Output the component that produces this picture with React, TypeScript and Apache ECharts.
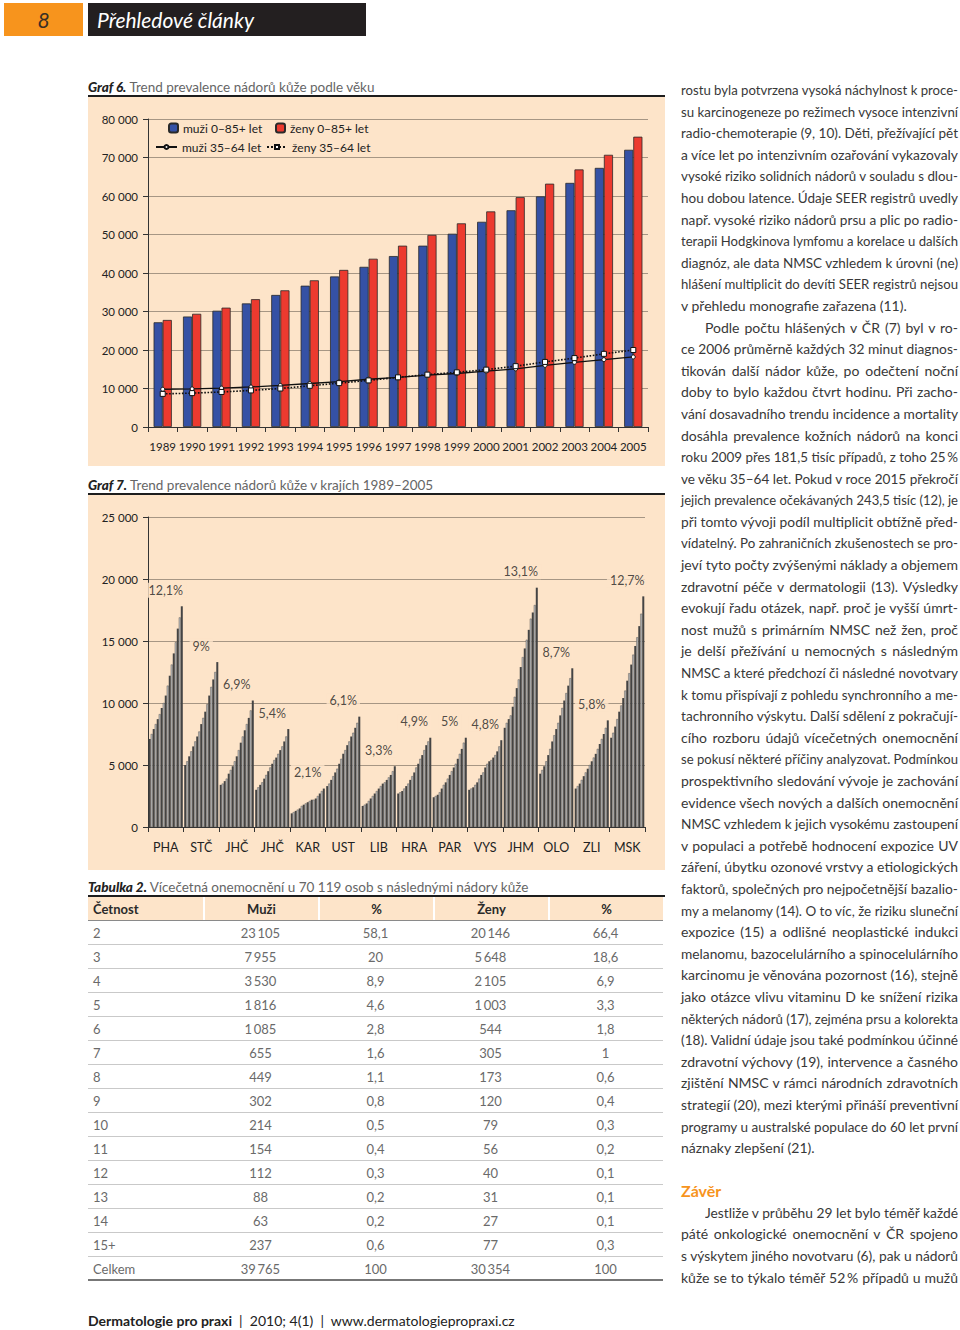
import React, { useEffect, useLayoutEffect, useRef } from "react";
import * as echarts from "echarts";

// ---------- Graf 6 data ----------
const years = ["1989","1990","1991","1992","1993","1994","1995","1996","1997","1998","1999","2000","2001","2002","2003","2004","2005"];
const menAll = [27200,28700,30200,32100,34300,36700,39100,41600,44400,47100,50200,53300,56300,59900,63400,67300,72000];
const womenAll = [27800,29400,31000,33200,35500,38100,40800,43700,47100,49900,52900,56000,59700,63200,66900,70700,75400];
const men3564 = [9800,9900,10100,10400,10800,11300,11800,12400,12900,13500,13900,14500,15100,16000,16800,17500,18200];
const women3564 = [8600,8800,9100,9500,10000,10700,11400,12100,12900,13600,14200,14900,15800,16900,17900,19000,20000];
const legendNames = ["muži 0–85+ let", "ženy 0–85+ let", "muži 35–64 let", "ženy 35–64 let"];

// ---------- Graf 7 data (per region, 1989–2005) ----------
const regions = ["PHA","STČ","JHČ","JHČ","KAR","UST","LIB","HRA","PAR","VYS","JHM","OLO","ZLI","MSK"];
const pha = [7100,7500,7900,8300,8700,9100,9600,10000,10600,11400,12200,13100,14000,14900,16000,16900,17800];
const stc = [5000,5300,5700,6100,6500,6900,7300,7700,8300,8800,9300,9900,10600,11300,11900,12500,13300];
const jhc = [3400,3500,3700,3900,4300,4600,4900,5300,5700,6200,6800,7300,7800,8300,8800,9400,10200];
const jhc2 = [3000,3200,3400,3600,3900,4200,4500,4800,5100,5400,5600,5900,6200,6500,6900,7300,7900];
const kar = [1100,1200,1300,1400,1500,1700,1800,1900,2000,2100,2200,2200,2300,2500,2700,2900,3100];
const ust = [3300,3500,3800,4100,4400,4700,5100,5500,5900,6200,6600,6900,7300,7600,8000,8400,8900];
const lib = [1700,1800,1900,2100,2300,2500,2700,2900,3100,3300,3500,3600,3800,4000,4200,4500,4900];
const hra = [2700,2800,2900,3100,3300,3500,3800,4100,4400,4800,5100,5500,5800,6200,6600,6900,7200];
const par = [2400,2500,2600,2800,3100,3400,3600,3900,4200,4500,4800,5100,5500,5900,6300,6800,7200];
const vys = [3000,3100,3200,3400,3600,3900,4200,4400,4800,5100,5300,5400,5600,5800,6100,6500,7000];
const jhm = [8000,8400,8700,9000,9700,10500,11200,11900,12900,13700,14400,15100,15900,16800,17300,17900,19300];
const olo = [4300,4600,4900,5300,5800,6300,6900,7400,7900,8400,9000,9600,10200,10800,11400,12000,12800];
const zli = [3100,3300,3500,3800,4100,4400,4700,5000,5300,5600,5900,6300,6700,7100,7500,8000,8600];
const msk = [7200,7600,8100,8700,9300,9800,10400,11000,11800,12400,13100,13900,14600,15300,16200,17200,18600];
const regionShares = ["12,1%","9%","6,9%","5,4%","2,1%","6,1%","3,3%","4,9%","5%","4,8%","13,1%","8,7%","5,8%","12,7%"];

// ---------- Tabulka 2 ----------
const tableHead = ["Četnost", "Muži", "%", "Ženy", "%"];
const tabCetnost = ["2","3","4","5","6","7","8","9","10","11","12","13","14","15+","Celkem"];
const tabMuzi = ["23\u2009105","7\u2009955","3\u2009530","1\u2009816","1\u2009085","655","449","302","214","154","112","88","63","237","39\u2009765"];
const tabMuziPct = ["58,1","20","8,9","4,6","2,8","1,6","1,1","0,8","0,5","0,4","0,3","0,2","0,2","0,6","100"];
const tabZeny = ["20\u2009146","5\u2009648","2\u2009105","1\u2009003","544","305","173","120","79","56","40","31","27","77","30\u2009354"];
const tabZenyPct = ["66,4","18,6","6,9","3,3","1,8","1","0,6","0,4","0,3","0,2","0,1","0,1","0,1","0,3","100"];

// ---------- Right column text ----------
const para1 = [
  "rostu byla potvrzena vysoká náchylnost k proce-",
  "su karcinogeneze po režimech vysoce intenzivní",
  "radio-chemoterapie (9, 10). Děti, přežívající pět",
  "a více let po intenzivním ozařování vykazovaly",
  "vysoké riziko solidních nádorů v souladu s dlou-",
  "hou dobou latence. Údaje SEER registrů uvedly",
  "např. vysoké riziko nádorů prsu a plic po radio-",
  "terapii Hodgkinova lymfomu a korelace u dalších",
  "diagnóz, ale data NMSC vzhledem k úrovni (ne)",
  "hlášení multiplicit do devíti SEER registrů nejsou",
  "v přehledu monografie zařazena (11).",
];
const para2 = [
  "Podle počtu hlášených v ČR (7) byl v ro-",
  "ce 2006 průměrně každých 32 minut diagnos-",
  "tikován další nádor kůže, po odečtení noční",
  "doby to bylo každou čtvrt hodinu. Při zacho-",
  "vání dosavadního trendu incidence a mortality",
  "dosáhla prevalence kožních nádorů na konci",
  "roku 2009 přes 181,5 tisíc případů, z toho 25\u2009%",
  "ve věku 35–64 let. Pokud v roce 2015 překročí",
  "jejich prevalence očekávaných 243,5 tisíc (12), je",
  "při tomto vývoji podíl multiplicit obtížně před-",
  "vídatelný. Po zahraničních zkušenostech se pro-",
  "jeví tyto počty zvýšenými náklady a objemem",
  "zdravotní péče v dermatologii (13). Výsledky",
  "evokují řadu otázek, např. proč je vyšší úmrt-",
  "nost mužů s primárním NMSC než žen, proč",
  "je delší přežívání u nemocných s následným",
  "NMSC a které předchozí či následné novotvary",
  "k tomu přispívají z pohledu synchronního a me-",
  "tachronního výskytu. Další sdělení z pokračují-",
  "cího rozboru údajů vícečetných onemocnění",
  "se pokusí některé příčiny analyzovat. Podmínkou",
  "prospektivního sledování vývoje je zachování",
  "evidence všech nových a dalších onemocnění",
  "NMSC vzhledem k jejich vysokému zastoupení",
  "v populaci a potřebě hodnocení expozice UV",
  "záření, úbytku ozonové vrstvy a etiologických",
  "faktorů, společných pro nejpočetnější bazalio-",
  "my a melanomy (14). O to víc, že riziku sluneční",
  "expozice (15) a odlišné neoplastické indukci",
  "melanomu, bazocelulárního a spinocelulárního",
  "karcinomu je věnována pozornost (16), stejně",
  "jako otázce vlivu vitaminu D ke snížení rizika",
  "některých nádorů (17), zejména prsu a kolorekta",
  "(18). Validní údaje jsou také podmínkou účinné",
  "zdravotní výchovy (19), intervence a časného",
  "zjištění NMSC v rámci národních zdravotních",
  "strategií (20), mezi kterými přináší preventivní",
  "programy u australské populace do 60 let první",
  "náznaky zlepšení (21).",
];
const para3 = [
  "Jestliže v průběhu 29 let bylo téměř každé",
  "páté onkologické onemocnění v ČR spojeno",
  "s výskytem jiného novotvaru (6), pak u nádorů",
  "kůže se to týkalo téměř 52\u2009% případů u mužů",
];

const PEACH = "#fde4c9";
const GRID = "#a69684";
const FONT = "Lato, 'Noto Sans', sans-serif";

const fmtNum = (v: number) => (v === 0 ? "0" : String(v).replace(/\B(?=(\d{3})+(?!\d))/g, " "));

type Line = { text: string; indent: boolean; justify: boolean; kind?: "head" | "blank" };

function buildLines(): Line[] {
  const out: Line[] = [];
  para1.forEach((t, i) => out.push({ text: t, indent: false, justify: i < para1.length - 1 }));
  para2.forEach((t, i) => out.push({ text: t, indent: i === 0, justify: i < para2.length - 1 }));
  out.push({ text: "", indent: false, justify: false, kind: "blank" });
  out.push({ text: "Závěr", indent: false, justify: false, kind: "head" });
  para3.forEach((t, i) => out.push({ text: t, indent: i === 0, justify: true }));
  return out;
}

const COLW = 277;
const INDENT = 24;

function Column() {
  const lines = buildLines();
  const refs = useRef<(HTMLSpanElement | null)[]>([]);
  useLayoutEffect(() => {
    const fit = () => {
      lines.forEach((ln, i) => {
        const el = refs.current[i];
        if (!el || ln.kind) return;
        el.style.wordSpacing = "0px";
        el.style.transform = "none";
        const w = el.getBoundingClientRect().width;
        const avail = COLW - (ln.indent ? INDENT : 0);
        if (w > avail) {
          el.style.transform = `scaleX(${avail / w})`;
        } else if (ln.justify) {
          const n = (ln.text.match(/ /g) || []).length;
          if (n > 0) el.style.wordSpacing = `${(avail - w) / n}px`;
        }
      });
    };
    fit();
    if ((document as any).fonts && (document as any).fonts.ready) (document as any).fonts.ready.then(fit);
  }, []);
  return (
    <div style={{ position: "absolute", left: 681, top: 79, width: COLW, fontFamily: FONT, fontSize: 14, color: "#383838" }}>
      {lines.map((ln, i) => (
        <div key={i} style={{ height: 21.6, lineHeight: "21.6px", whiteSpace: "nowrap", paddingLeft: ln.indent ? INDENT : 0 }}>
          {ln.kind === "head" ? (
            <span style={{ color: "#f7941d", fontWeight: 700, fontSize: 16 }}>{ln.text}</span>
          ) : (
            <span ref={(el) => { refs.current[i] = el; }} style={{ display: "inline-block", transformOrigin: "left center" }}>{ln.text}</span>
          )}
        </div>
      ))}
    </div>
  );
}

function Chart6() {
  const ref = useRef<HTMLDivElement>(null);
  useEffect(() => {
    const chart = echarts.init(ref.current!, null, { renderer: "svg" });
    const legendBase = { textStyle: { fontSize: 12, color: "#222", fontFamily: FONT }, selectedMode: false, itemGap: 0, padding: 0 };
    chart.setOption({
      animation: false,
      backgroundColor: PEACH,
      textStyle: { fontFamily: FONT },
      grid: { left: 60, right: 17, top: 22, bottom: 39 },
      legend: [
        { ...legendBase, data: [legendNames[0]], left: 80, top: 25, itemWidth: 9, itemHeight: 9 },
        { ...legendBase, data: [legendNames[1]], left: 187, top: 25, itemWidth: 9, itemHeight: 9 },
        { ...legendBase, data: [legendNames[2]], left: 67, top: 44, itemWidth: 21, itemHeight: 5 },
        { ...legendBase, data: [legendNames[3]], left: 178, top: 44, itemWidth: 20, itemHeight: 5 },
      ],
      xAxis: {
        type: "category",
        data: years,
        axisLine: { lineStyle: { color: "#333", width: 1 } },
        axisTick: { show: true, length: 5, lineStyle: { color: "#333" } },
        axisLabel: { interval: 0, fontSize: 11.5, color: "#222", margin: 13 },
      },
      yAxis: {
        type: "value",
        min: 0,
        max: 80000,
        interval: 10000,
        axisLine: { show: true, lineStyle: { color: "#333" } },
        axisTick: { show: true, length: 5, lineStyle: { color: "#333" } },
        axisLabel: { formatter: fmtNum, fontSize: 11.5, color: "#222", margin: 10 },
        splitLine: { lineStyle: { color: GRID, width: 1 } },
      },
      series: [
        { name: legendNames[0], type: "bar", data: menAll, barGap: "0%", barCategoryGap: "38%", itemStyle: { color: "#3551a5", borderColor: "#2a2a2a", borderWidth: 0.8 } },
        { name: legendNames[1], type: "bar", data: womenAll, itemStyle: { color: "#ec3a2f", borderColor: "#2a2a2a", borderWidth: 0.8 } },
        { name: legendNames[2], type: "line", data: men3564, symbol: "circle", symbolSize: 4, itemStyle: { color: "#fff", borderColor: "#111", borderWidth: 1 }, lineStyle: { color: "#111", width: 1.3 }, z: 5 },
        { name: legendNames[3], type: "line", data: women3564, symbol: "rect", symbolSize: 5, itemStyle: { color: "#fff", borderColor: "#111", borderWidth: 1 }, lineStyle: { color: "#111", width: 1.6, type: "dotted" }, z: 6 },
      ],
    });
    return () => chart.dispose();
  }, []);
  return <div ref={ref} style={{ position: "absolute", left: 88, top: 97, width: 577, height: 369 }} />;
}

function Chart7() {
  const ref = useRef<HTMLDivElement>(null);
  useEffect(() => {
    const chart = echarts.init(ref.current!, null, { renderer: "svg" });
    const regionData = [pha, stc, jhc, jhc2, kar, ust, lib, hra, par, vys, jhm, olo, zli, msk];
    const peaks = regionData.map((a) => Math.max(...a));
    const barSeries = years.map((y, i) => ({
      name: y,
      type: "bar",
      data: regionData.map((a) => a[i]),
      barGap: "0%",
      barCategoryGap: "4%",
      itemStyle: i % 2 === 0
        ? { color: "#444444" }
        : { color: "#b9b9b9", borderColor: "#444444", borderWidth: 0.4 },
    }));
    chart.setOption({
      animation: false,
      backgroundColor: PEACH,
      textStyle: { fontFamily: FONT },
      grid: { left: 60, right: 20, top: 22, bottom: 43 },
      xAxis: {
        type: "category",
        data: regions,
        axisLine: { lineStyle: { color: "#333" } },
        axisTick: { show: true, length: 5, lineStyle: { color: "#333" } },
        axisLabel: { interval: 0, fontSize: 12.5, color: "#222", margin: 14 },
      },
      yAxis: {
        type: "value",
        min: 0,
        max: 25000,
        interval: 5000,
        axisLine: { show: true, lineStyle: { color: "#333" } },
        axisTick: { show: true, length: 5, lineStyle: { color: "#333" } },
        axisLabel: { formatter: fmtNum, fontSize: 11.5, color: "#222", margin: 10 },
        splitLine: { lineStyle: { color: GRID, width: 1 } },
      },
      series: [
        ...barSeries,
        {
          type: "scatter",
          data: peaks,
          symbolSize: 1,
          itemStyle: { color: "rgba(0,0,0,0)" },
          z: 10,
          label: {
            show: true,
            position: "top",
            distance: 8,
            formatter: (p: any) => regionShares[p.dataIndex],
            fontSize: 12.5,
            color: "#222",
            backgroundColor: PEACH,
            padding: [1, 3],
          },
        },
      ],
    });
    return () => chart.dispose();
  }, []);
  return <div ref={ref} style={{ position: "absolute", left: 88, top: 495, width: 577, height: 375 }} />;
}

function Caption({ top, bold, rest }: { top: number; bold: string; rest: string }) {
  return (
    <>
      <div style={{ position: "absolute", left: 88, top, fontFamily: FONT, fontSize: 13.5, lineHeight: "16px", whiteSpace: "nowrap" }}>
        <span style={{ fontWeight: 900, fontStyle: "italic", color: "#222" }}>{bold}</span>
        <span style={{ color: "#666" }}> {rest}</span>
      </div>
      <div style={{ position: "absolute", left: 88, top: top + 16, width: 577, height: 2, background: "#1d1d1d" }} />
    </>
  );
}

function Table() {
  const colW = 115;
  const cell = (txt: string, j: number, head: boolean) => (
    <div key={j} style={{
      width: colW, boxSizing: "border-box", textAlign: j === 0 ? "left" : "center", paddingLeft: j === 0 ? 5 : 0,
      borderLeft: head && j > 0 ? "2px solid #fff" : "none",
    }}>{txt}</div>
  );
  return (
    <div style={{ position: "absolute", left: 88, top: 897, width: 575, fontFamily: FONT, fontSize: 13 }}>
      <div style={{ display: "flex", height: 24, lineHeight: "24px", background: PEACH, color: "#2a2a2a", fontWeight: 700, borderBottom: "1px solid #8a8a8a", boxSizing: "border-box" }}>
        {tableHead.map((h, j) => cell(h, j, true))}
      </div>
      {tabCetnost.map((c, i) => (
        <div key={i} style={{
          display: "flex", height: 24, lineHeight: "24px", color: "#6a6a6a", boxSizing: "border-box",
          borderBottom: i === tabCetnost.length - 1 ? "2px solid #777" : "1px solid #c9c9c9",
        }}>
          {[c, tabMuzi[i], tabMuziPct[i], tabZeny[i], tabZenyPct[i]].map((t, j) => cell(t, j, false))}
        </div>
      ))}
    </div>
  );
}

export default function App() {
  return (
    <div style={{ position: "absolute", left: 0, top: 0, width: 960, height: 1330, background: "#fff", overflow: "hidden", fontFamily: FONT }}>
      <div style={{ position: "absolute", left: 4, top: 3, width: 79, height: 33, background: "#f7941d", color: "#3a2f25", fontStyle: "italic", fontSize: 21, lineHeight: "33px", textAlign: "center" }}>8</div>
      <div style={{ position: "absolute", left: 88, top: 3, width: 278, height: 33, background: "#231f20", color: "#fff", fontStyle: "italic", fontSize: 21, lineHeight: "33px", paddingLeft: 9, boxSizing: "border-box" }}>Přehledové články</div>

      <Caption top={79} bold="Graf 6." rest="Trend prevalence nádorů kůže podle věku" />
      <Chart6 />
      <Caption top={477} bold="Graf 7." rest="Trend prevalence nádorů kůže v krajích 1989–2005" />
      <Chart7 />
      <Caption top={879} bold="Tabulka 2." rest="Vícečetná onemocnění u 70 119 osob s následnými nádory kůže" />
      <Table />

      <Column />

      <div style={{ position: "absolute", left: 88, top: 1313, fontFamily: FONT, fontSize: 14, color: "#222", whiteSpace: "pre", lineHeight: "16px" }}>
        <span style={{ fontWeight: 700 }}>Dermatologie pro praxi</span>
        <span>{"  |  2010; 4(1)  |  www.dermatologiepropraxi.cz"}</span>
      </div>
    </div>
  );
}
